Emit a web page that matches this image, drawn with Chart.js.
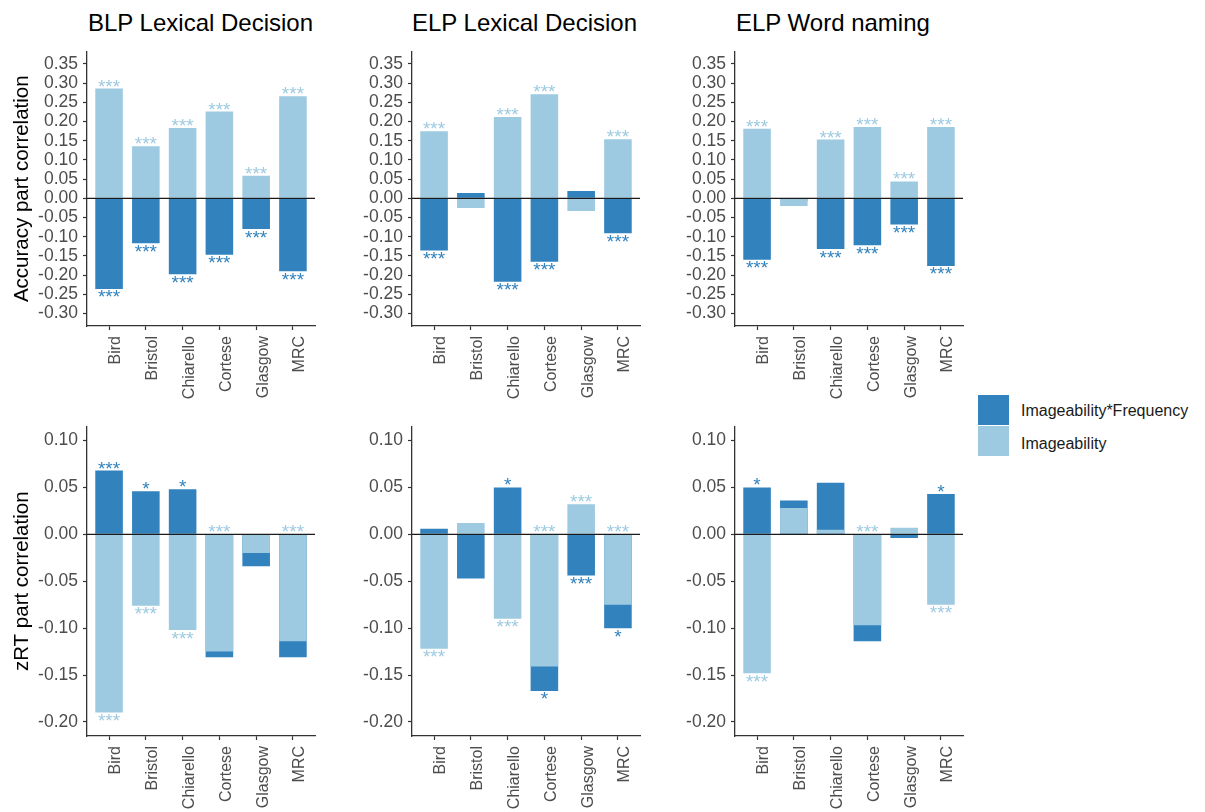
<!DOCTYPE html>
<html>
<head>
<meta charset="utf-8">
<script src="https://cdn.jsdelivr.net/npm/chart.js@4.4.1/dist/chart.umd.min.js"></script>
<style>
  html, body { margin:0; padding:0; background:#fff; overflow:hidden; }
  body { width:1205px; height:812px; position:relative; font-family:"Liberation Sans", Arial, sans-serif; }
  canvas { position:absolute; }
  .title { position:absolute; font-size:24px; line-height:24px; color:#000; white-space:nowrap; }
  .key { position:absolute; left:978px; width:31px; height:30px; }
  .key-label { position:absolute; left:1021px; font-size:16px; line-height:16px; color:#1a1a1a; white-space:nowrap; }
</style>
</head>
<body>

<div class="title" style="left:88px;top:11px">BLP Lexical Decision</div>
<div class="title" style="left:412px;top:11px">ELP Lexical Decision</div>
<div class="title" style="left:736px;top:11px">ELP Word naming</div>

<canvas id="c00"></canvas>
<canvas id="c01"></canvas>
<canvas id="c02"></canvas>
<canvas id="c10"></canvas>
<canvas id="c11"></canvas>
<canvas id="c12"></canvas>

<div class="key" style="top:395px;background:#3182bd"></div>
<div class="key" style="top:426px;background:#9ecae1"></div>
<div class="key-label" style="top:403px">Imageability*Frequency</div>
<div class="key-label" style="top:436px">Imageability</div>

<script>
//--------------------------------------------------
// DATA
//--------------------------------------------------
const sources = ["Bird", "Bristol", "Chiarello", "Cortese", "Glasgow", "MRC"];
const accTicks = [-0.30, -0.25, -0.20, -0.15, -0.10, -0.05, 0, 0.05, 0.10, 0.15, 0.20, 0.25, 0.30, 0.35];
const rtTicks = [-0.20, -0.15, -0.10, -0.05, 0, 0.05, 0.10];

// accuracy part correlations
const blpAccImage = [0.286, 0.136, 0.183, 0.226, 0.059, 0.266];
const blpAccInter = [-0.236, -0.117, -0.198, -0.147, -0.080, -0.190];
const elpAccImage = [0.175, -0.025, 0.212, 0.271, -0.033, 0.154];
const elpAccInter = [-0.136, 0.014, -0.217, -0.165, 0.019, -0.091];
const wnAccImage  = [0.181, -0.020, 0.153, 0.186, 0.044, 0.186];
const wnAccInter  = [-0.160, -0.006, -0.132, -0.122, -0.068, -0.176];

// zRT part correlations
const blpRtImage = [-0.190, -0.076, -0.102, -0.125, -0.020, -0.114];
const blpRtInter = [0.068, 0.046, 0.048, -0.131, -0.034, -0.131];
const elpRtImage = [-0.122, 0.012, -0.090, -0.141, 0.032, -0.075];
const elpRtInter = [0.006, -0.047, 0.050, -0.167, -0.044, -0.100];
const wnRtImage  = [-0.148, 0.028, 0.005, -0.097, 0.007, -0.075];
const wnRtInter  = [0.050, 0.036, 0.055, -0.114, -0.004, 0.043];

// significance marks
const blpAccImageSig = ["***", "***", "***", "***", "***", "***"];
const blpAccInterSig = ["***", "***", "***", "***", "***", "***"];
const elpAccImageSig = ["***", "", "***", "***", "", "***"];
const elpAccInterSig = ["***", "", "***", "***", "", "***"];
const wnAccImageSig  = ["***", "", "***", "***", "***", "***"];
const wnAccInterSig  = ["***", "", "***", "***", "***", "***"];
const blpRtImageSig = ["***", "***", "***", "***", "", "***"];
const blpRtInterSig = ["***", "*", "*", "", "", ""];
const elpRtImageSig = ["***", "", "***", "***", "***", "***"];
const elpRtInterSig = ["", "", "*", "*", "***", "*"];
const wnRtImageSig  = ["***", "", "", "***", "", "***"];
const wnRtInterSig  = ["*", "", "", "", "", "*"];

//--------------------------------------------------
// LAYOUT
//--------------------------------------------------
const DARK = "#3182bd";
const LIGHT = "#9ecae1";
const FONT = '"Liberation Sans", Arial, sans-serif';

const axisX = [87, 412, 735];
const plotW = 228;
const rows = [
  { top: 48, h: 278, min: -0.3325, max: 0.3825, ticks: accTicks, title: "Accuracy part correlation" },
  { top: 423, h: 313, min: -0.215, max: 0.115, ticks: rtTicks, title: "zRT part correlation" }
];
const PAD_TOP = 12, PAD_RIGHT = 14, X_H = 76;

// zero line + stars on top of the bars
const starPlugin = {
  id: "stars",
  afterDatasetsDraw(chart){
    const {ctx, chartArea, scales} = chart;
    const y0 = scales.y.getPixelForValue(0);
    ctx.save();
    ctx.strokeStyle = "#1a1a1a";
    ctx.lineWidth = 1.4;
    ctx.beginPath();
    ctx.moveTo(chartArea.left, y0);
    ctx.lineTo(chartArea.right, y0);
    ctx.stroke();

    ctx.font = "19px " + FONT;
    ctx.textAlign = "center";
    ctx.textBaseline = "alphabetic";
    chart.data.datasets.forEach((ds, di)=>{
      const other = chart.data.datasets[1 - di];
      const bars = chart.getDatasetMeta(di).data;
      ds.sig.forEach((s, i)=>{
        if(!s) return;
        const v = ds.data[i].y, w = other.data[i].y;
        let edge = bars[i].y, up = v >= 0;
        // light bar hidden inside a longer dark bar: its mark sits at the zero line
        if(di === 0 && v * w > 0 && Math.abs(w) > Math.abs(v)){ edge = y0; up = !up; }
        const cy = up ? edge - 6.5 : edge + 4;
        ctx.fillStyle = ds.backgroundColor;
        ctx.fillText(s, bars[i].x, cy + 10.5);
      });
    });
    ctx.restore();
  }
};

function pts(arr){ return arr.map((v, i)=>({ x: i + 1, y: v })); }

function makePanel(r, c, image, inter, imageSig, interSig){
  const row = rows[r];
  const yW = c === 0 ? 87 : 80;
  const canvas = document.getElementById("c" + r + c);
  canvas.width = yW + plotW + PAD_RIGHT;
  canvas.height = PAD_TOP + row.h + X_H;
  canvas.style.left = (axisX[c] - yW) + "px";
  canvas.style.top = (row.top - PAD_TOP) + "px";

  new Chart(canvas, {
    type: "bar",
    data: {
      datasets: [
        { label: "Imageability", data: pts(image), backgroundColor: LIGHT, sig: imageSig,
          grouped: false, barPercentage: 0.75, categoryPercentage: 1 },
        { label: "Imageability*Frequency", data: pts(inter), backgroundColor: DARK, sig: interSig,
          grouped: false, barPercentage: 0.75, categoryPercentage: 1 }
      ]
    },
    options: {
      responsive: false,
      animation: false,
      devicePixelRatio: 1,
      layout: { padding: { top: PAD_TOP, right: PAD_RIGHT, bottom: 0, left: 0 } },
      plugins: { legend: { display: false }, tooltip: { enabled: false } },
      scales: {
        x: {
          type: "linear", min: 0.4, max: 6.6, offset: false,
          afterBuildTicks: s=>{ s.ticks = sources.map((n, i)=>({ value: i + 1 })); },
          afterFit: s=>{ s.height = X_H; },
          grid: { offset: false, drawOnChartArea: false, drawTicks: true, tickLength: 4, tickColor: "#333", tickWidth: 1.2 },
          border: { display: true, color: "#333", width: 1.3 },
          ticks: {
            autoSkip: false, minRotation: 90, maxRotation: 90, padding: 6, labelOffset: 7,
            color: "#4d4d4d", font: { family: FONT, size: 16 },
            callback: v=>sources[Math.round(v) - 1]
          }
        },
        y: {
          min: row.min, max: row.max,
          afterBuildTicks: s=>{ s.ticks = row.ticks.map(v=>({ value: v })); },
          afterFit: s=>{ s.width = yW; },
          grid: { drawOnChartArea: false, drawTicks: true, tickLength: 4, tickColor: "#333", tickWidth: 1.2 },
          border: { display: true, color: "#333", width: 1.3 },
          ticks: {
            autoSkip: false, padding: 5, color: "#4d4d4d", font: { family: FONT, size: 17.5 },
            callback: v=>v.toFixed(2)
          },
          title: {
            display: c === 0, text: row.title, color: "#000",
            font: { family: FONT, size: 20.5 }, padding: { top: 10, bottom: 0 }
          }
        }
      }
    },
    plugins: [starPlugin]
  });
}

makePanel(0, 0, blpAccImage, blpAccInter, blpAccImageSig, blpAccInterSig);
makePanel(0, 1, elpAccImage, elpAccInter, elpAccImageSig, elpAccInterSig);
makePanel(0, 2, wnAccImage, wnAccInter, wnAccImageSig, wnAccInterSig);
makePanel(1, 0, blpRtImage, blpRtInter, blpRtImageSig, blpRtInterSig);
makePanel(1, 1, elpRtImage, elpRtInter, elpRtImageSig, elpRtInterSig);
makePanel(1, 2, wnRtImage, wnRtInter, wnRtImageSig, wnRtInterSig);
</script>
</body>
</html>
